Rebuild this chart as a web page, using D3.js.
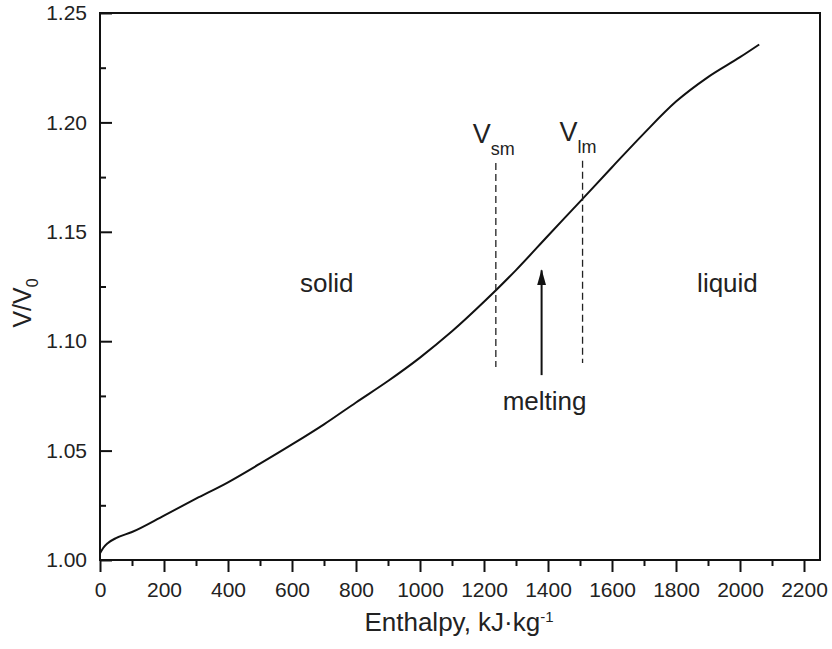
<!DOCTYPE html>
<html>
<head>
<meta charset="utf-8">
<script src="https://cdn.jsdelivr.net/npm/d3@7"></script>
<style>
  html, body { margin: 0; padding: 0; background: #fff; }
  svg { display: block; font-family: "Liberation Sans", Arial, Helvetica, sans-serif; }
</style>
</head>
<body>
<svg id="chart" width="832" height="649"></svg>
<script>
// curve: enthalpy (kJ/kg) vs relative volume V/V0
const enthalpy = [0, 10, 25, 50, 100, 200, 300, 400, 500, 600, 700, 800, 900, 1000,
                  1100, 1200, 1300, 1400, 1500, 1600, 1700, 1800, 1900, 2000, 2060];
const volume   = [1.0030, 1.0055, 1.0078, 1.0100, 1.0128, 1.0203, 1.0280, 1.0355,
                  1.0440, 1.0528, 1.0620, 1.0720, 1.0818, 1.0925, 1.1045, 1.1180,
                  1.1325, 1.1482, 1.1638, 1.1795, 1.1950, 1.2095, 1.2207, 1.2298,
                  1.2356];

const xMajor = [0, 200, 400, 600, 800, 1000, 1200, 1400, 1600, 1800, 2000, 2200];
const xMinor = [100, 300, 500, 700, 900, 1100, 1300, 1500, 1700, 1900, 2100];
const yMajor = [1.00, 1.05, 1.10, 1.15, 1.20, 1.25];
const yMinor = [1.025, 1.075, 1.125, 1.175, 1.225];

// melting boundaries (dashed markers)
const meltLines = [
  { label: "sm", h: 1237, top: 1.1815, bottom: 1.0882 },
  { label: "lm", h: 1508, top: 1.1825, bottom: 1.0900 }
];
const phaseLabels = [
  { text: "solid",  h: 625,  v: 1.1225 },
  { text: "liquid", h: 1866, v: 1.1225 }
];
const arrow = { h: 1380, from: 1.0845, to: 1.1324 };

const svg = d3.select("#chart");
const W = 832, H = 649;
const m = { left: 100, right: 12, top: 13, bottom: 89 };

const x = d3.scaleLinear().domain([0, 2250]).range([m.left, W - m.right]);
const y = d3.scaleLinear().domain([1.00, 1.25]).range([H - m.bottom, m.top]);

// x axis: ticks pointing out
const gx = svg.append("g").attr("transform", `translate(0,${y(1.00)})`);
gx.call(d3.axisBottom(x).tickValues(xMajor).tickFormat(d3.format("d"))
      .tickSize(12).tickPadding(10));
gx.append("g").call(d3.axisBottom(x).tickValues(xMinor).tickFormat("").tickSize(6))
  .select(".domain").remove();

// y axis: ticks pointing in
const gy = svg.append("g").attr("transform", `translate(${x(0)},0)`);
gy.call(d3.axisLeft(y).tickValues(yMajor).tickFormat(d3.format(".2f"))
      .tickSize(-12).tickPadding(13));
gy.append("g").call(d3.axisLeft(y).tickValues(yMinor).tickFormat("").tickSize(-6))
  .select(".domain").remove();

svg.selectAll(".domain").remove();
svg.selectAll(".tick line").attr("stroke", "#111").attr("stroke-width", 2);
svg.selectAll(".tick text").attr("font-size", 21).attr("fill", "#222")
   .attr("font-family", "Liberation Sans, Arial, sans-serif");

// frame
svg.append("rect")
  .attr("x", x(0)).attr("y", y(1.25))
  .attr("width", x(2250) - x(0)).attr("height", y(1.00) - y(1.25))
  .attr("fill", "none").attr("stroke", "#111").attr("stroke-width", 2);

// curve
const pts = enthalpy.map((h, i) => [h, volume[i]]);
svg.append("path")
  .datum(pts)
  .attr("fill", "none")
  .attr("stroke", "#111")
  .attr("stroke-width", 2)
  .attr("d", d3.line().x(d => x(d[0])).y(d => y(d[1])).curve(d3.curveMonotoneX));

// dashed melting markers
meltLines.forEach(d => {
  svg.append("line")
    .attr("x1", x(d.h)).attr("x2", x(d.h))
    .attr("y1", y(d.top)).attr("y2", y(d.bottom))
    .attr("stroke", "#222").attr("stroke-width", 1.3)
    .attr("stroke-dasharray", "7,4");
  const t = svg.append("text")
    .attr("x", x(d.h) - 23).attr("y", y(d.top) - 20)
    .attr("font-size", 27).attr("fill", "#222");
  t.append("tspan").text("V");
  t.append("tspan").attr("dy", 12).attr("font-size", 18).text(d.label);
});

// arrow
svg.append("defs").append("marker")
  .attr("id", "head").attr("viewBox", "0 0 16 9")
  .attr("refX", 15).attr("refY", 4.5)
  .attr("markerWidth", 16).attr("markerHeight", 9)
  .attr("markerUnits", "userSpaceOnUse")
  .attr("orient", "auto")
  .append("path").attr("d", "M0,0 L16,4.5 L0,9 Z").attr("fill", "#111");
svg.append("line")
  .attr("x1", x(arrow.h)).attr("x2", x(arrow.h))
  .attr("y1", y(arrow.from)).attr("y2", y(arrow.to))
  .attr("stroke", "#111").attr("stroke-width", 2)
  .attr("marker-end", "url(#head)");
svg.append("text")
  .attr("x", x(arrow.h) + 3).attr("y", y(arrow.from) + 35)
  .attr("text-anchor", "middle").attr("font-size", 26).attr("fill", "#222")
  .text("melting");

phaseLabels.forEach(d => {
  svg.append("text")
    .attr("x", x(d.h)).attr("y", y(d.v))
    .attr("font-size", 26).attr("fill", "#222")
    .text(d.text);
});

// axis titles
const xt = svg.append("text")
  .attr("x", 459).attr("y", 631)
  .attr("text-anchor", "middle").attr("font-size", 26).attr("fill", "#222");
xt.append("tspan").text("Enthalpy, kJ\u00b7kg");
xt.append("tspan").attr("dy", -9).attr("font-size", 15).text("-1");

const yt = svg.append("text")
  .attr("transform", "translate(31,303) rotate(-90)")
  .attr("text-anchor", "middle").attr("font-size", 25).attr("fill", "#222");
yt.append("tspan").text("V/V");
yt.append("tspan").attr("dy", 7).attr("font-size", 16).text("0");
</script>
</body>
</html>
